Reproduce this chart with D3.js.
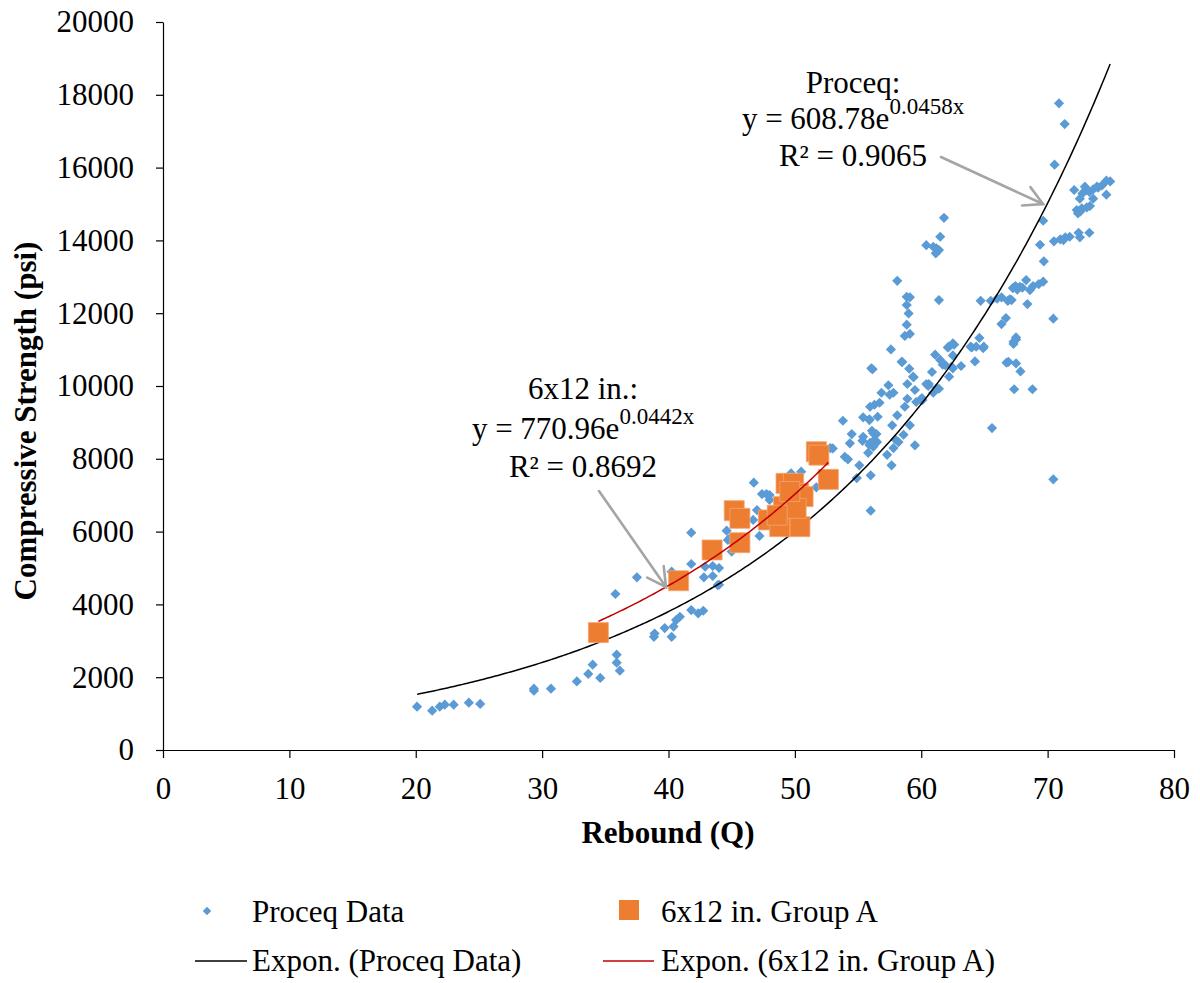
<!DOCTYPE html>
<html><head><meta charset="utf-8">
<script src="https://cdn.jsdelivr.net/npm/d3@7"></script>
<style>
body{margin:0;background:#fff}
text{font-family:"Liberation Serif","Times New Roman",serif;fill:#000}
</style>
</head><body>
<svg id="chart" width="1200" height="983"></svg>
<script>
// ---- data (Rebound Q, Compressive strength psi) ----
const proceqData = [
[20.1,1190],[21.3,1080],[21.9,1190],[22.3,1245],[23.0,1245],[24.2,1300],[25.1,1265],
[29.35,1685],[29.35,1630],[30.7,1685],[32.75,1885],[33.65,2090],[34.0,2345],[34.6,1980],
[35.9,2620],[35.9,2400],[36.15,2180],[35.8,4285],[37.5,4745],
[38.85,3110],[38.9,3200],[39.7,3350],[40.25,3110],[40.4,3390],[40.6,3570],[40.9,3660],
[41.8,3845],[42.35,3755],[42.75,3825],
[41.8,5110],[40.25,4900],[42.8,4745],[43.5,4780],[42.9,5035],[43.5,5055],[44.0,5000],[43.9,4530],[44.0,4540],
[41.8,5970],[44.6,6025],[44.85,5815],[45.0,5450],[44.7,5770],[46.75,7345],[47.2,5880],[46.7,6320],
[47.0,6590],[47.4,7030],[47.75,7030],[48.0,6870],[48.0,7005],[50.5,7645],[49.7,7600],[51.7,7215],[53.0,8285],
[56.15,10460],[58.5,10660],[59.05,10475],[60.4,10055],[59.4,10240],[58.9,10055],[57.4,10020],[59.5,9890],
[56.85,9815],[57.8,9815],[57.5,9760],[58.9,9650],[59.6,9560],[56.7,9540],[56.3,9485],[55.95,9430],[58.7,9430],
[58.1,9195],[56.55,9155],[55.4,9140],[55.9,9085],[53.8,9045],[57.7,8920],[59.1,8920],[54.5,8680],[56.1,8770],
[56.45,8680],[58.6,8660],[55.4,8605],[55.35,8495],[57.95,8530],[54.35,8425],[55.95,8440],[56.5,8460],[58.2,8460],
[56.2,8330],[57.8,8295],[59.5,8370],[55.8,8165],[57.3,8110],[52.8,8295],[53.95,8055],[54.2,7985],[55.1,7820],
[57.65,7820],[56.0,7545],[54.9,7470],[56.0,6575],[56.3,8515],[55.9,8380],[56.2,8700],[55.9,9065],
[61.8,14620],[61.5,14100],[60.4,13870],[60.95,13825],[61.4,13735],[61.15,13645],[61.2,13780],
[58.1,12890],[58.85,12450],[59.1,12435],[58.85,12225],[59.0,11995],[61.4,12360],[58.85,11685],[58.7,11375],[59.1,11430],
[64.7,12340],[65.5,12340],[66.0,12400],[66.85,12340],[67.15,12360],[66.7,11865],[66.35,11700],
[57.6,11005],[62.2,11080],[62.6,11135],[63.9,11080],[64.6,11320],[64.35,11080],[64.95,11080],[62.1,11060],
[61.1,10860],[61.5,10715],[61.7,10585],[62.5,10840],[62.4,10530],[63.15,10550],[64.25,10675],[66.75,10640],
[62.2,10255],[60.85,10385],[59.35,10255],[60.6,10055],[61.4,9925],[60.95,9815],[60.05,9670],[60.1,9615],
[65.6,8845],[61.9,10575],[62.5,10485],[61.2,9935],[60.55,10000],[59.95,9615],[58.45,10665],[56.05,10485],
[62.5,11170],[64.0,11060],[64.9,11040],
[70.55,16080],[72.1,15385],[72.95,15475],[73.3,15330],[73.9,15475],[74.3,15510],[74.65,15640],[74.95,15620],
[74.65,15255],[73.6,15145],[72.55,15145],[73.1,15385],[72.75,15290],[73.6,15400],[74.0,15450],
[72.3,14835],[72.7,14880],[73.1,14905],[73.35,14945],[72.4,14745],[72.6,14800],
[69.65,14540],[70.5,13975],[71.0,14030],[71.4,14085],[71.75,14100],[71.25,14010],[72.45,14210],[72.55,14085],
[73.3,14210],[69.4,13880],[69.7,13425],
[67.45,12745],[67.8,12725],[68.3,12910],[68.6,12635],[68.85,12745],[69.3,12800],[69.65,12865],[67.25,12690],
[67.0,12380],[68.4,12250],[66.35,12435],[70.45,11850],[68.0,12700],[67.6,12650],
[67.5,11280],[67.3,11155],[66.9,10665],[67.5,10620],[67.85,10400],[67.35,9910],[68.8,9910],[70.45,7435],
[70.9,17765],[71.35,17195],[67.3,11215],[67.5,11335]
];
const groupAData = [
[34.45,3225],[40.8,4650],[43.45,5495],[45.65,5695],[45.2,6575],[45.65,6365],[51.7,8195],[51.9,8100],
[52.65,7435],[49.3,7325],[49.9,7325],[50.3,7050],[50.65,6960],[47.9,6320],[49.1,6685],[49.35,6320],
[50.4,6135],[48.8,6135],[50.1,6640],[49.6,7100],[48.6,6450]
];
const proceqFitCoef = [608.78, 0.0458];
const groupAFitCoef = [770.96, 0.0442];
const xTicks = [0,10,20,30,40,50,60,70,80];
const yTicks = [0,2000,4000,6000,8000,10000,12000,14000,16000,18000,20000];
const proceqLabel = ["Proceq:", "y = 608.78e", "0.0458x", "R\u00B2 = 0.9065"];
const groupALabel = ["6x12 in.:", "y = 770.96e", "0.0442x", "R\u00B2 = 0.8692"];
const legendLabels = ["Proceq Data", "6x12 in. Group A", "Expon. (Proceq Data)", "Expon. (6x12 in. Group A)"];

// ---- drawing ----
const svg = d3.select("#chart");
const FS = 31;
const x = d3.scaleLinear().domain([0,80]).range([163,1174]);
const y = d3.scaleLinear().domain([0,20000]).range([750,22]);
const blue = "#5B9BD5", orange = "#ED7D31", red = "#C00000";

const yAxis = svg.append("g").attr("transform","translate(163,0)")
  .call(d3.axisLeft(y).tickValues(yTicks).tickSize(7).tickSizeOuter(0).tickPadding(22).tickFormat(d3.format("d")));
const xAxis = svg.append("g").attr("transform","translate(0,750)")
  .call(d3.axisBottom(x).tickValues(xTicks).tickSize(8).tickSizeOuter(0).tickPadding(19).tickFormat(d3.format("d")));
[yAxis,xAxis].forEach(g=>{
  g.selectAll("path").attr("stroke","#000").attr("stroke-width",1.2);
  g.selectAll("line").attr("stroke","#000").attr("stroke-width",1.2);
  g.selectAll("text").attr("font-size",FS).attr("font-family","'Liberation Serif','Times New Roman',serif").attr("fill","#000");
});

// trendlines
function fitLine(data, coef){
  const xs = data.map(d=>d[0]);
  const lo = d3.min(xs), hi = d3.max(xs);
  const pts = d3.range(lo, hi, 0.2).concat([hi]).map(v=>[v, coef[0]*Math.exp(coef[1]*v)]);
  return d3.line().x(d=>x(d[0])).y(d=>y(d[1]))(pts);
}

// points
const diamond = d3.symbol().type(d3.symbolSquare).size(52);
svg.append("g").selectAll("path").data(proceqData).join("path")
  .attr("d", diamond)
  .attr("transform", d=>`translate(${x(d[0])},${y(d[1])}) rotate(45)`)
  .attr("fill", blue);

svg.append("path").attr("d", fitLine(proceqData, proceqFitCoef))
  .attr("fill","none").attr("stroke","#000").attr("stroke-width",1.5);

const square = d3.symbol().type(d3.symbolSquare).size(400);
svg.append("g").selectAll("path").data(groupAData).join("path")
  .attr("d", square)
  .attr("transform", d=>`translate(${x(d[0])},${y(d[1])})`)
  .attr("fill", orange).attr("stroke","#F4A672").attr("stroke-width",0.8);

svg.append("path").attr("d", fitLine(groupAData, groupAFitCoef))
  .attr("fill","none").attr("stroke",red).attr("stroke-width",1.5);

// axis titles
svg.append("text").attr("x",668).attr("y",843).attr("text-anchor","middle")
  .attr("font-size",FS).attr("font-weight","bold").text("Rebound (Q)");
svg.append("text").attr("transform","translate(36,421) rotate(-90)").attr("text-anchor","middle")
  .attr("font-size",FS).attr("font-weight","bold").text("Compressive Strength (psi)");

// annotations
function annot(lbl, cx, b){
  svg.append("text").attr("x",cx).attr("y",b[0]).attr("text-anchor","middle").attr("font-size",FS).text(lbl[0]);
  const t = svg.append("text").attr("x",cx).attr("y",b[1]).attr("text-anchor","middle").attr("font-size",FS);
  t.append("tspan").text(lbl[1]);
  t.append("tspan").attr("dy",-15).attr("font-size",23).text(lbl[2]);
  svg.append("text").attr("x",cx).attr("y",b[2]).attr("text-anchor","middle").attr("font-size",FS).text(lbl[3]);
}
annot(proceqLabel, 853, [93,129,166]);
annot(groupALabel, 583, [399,439,477]);

function arrow(x1,y1,x2,y2){
  const g = svg.append("g").attr("stroke","#A5A5A5").attr("stroke-width",2.6).attr("fill","none").attr("stroke-linecap","round");
  g.append("line").attr("x1",x1).attr("y1",y1).attr("x2",x2).attr("y2",y2);
  const a = Math.atan2(y2-y1,x2-x1), L = 21, w = 0.5;
  const p1 = [x2 - L*Math.cos(a-w), y2 - L*Math.sin(a-w)];
  const p2 = [x2 - L*Math.cos(a+w), y2 - L*Math.sin(a+w)];
  g.append("path").attr("d",`M${p1[0]},${p1[1]}L${x2},${y2}L${p2[0]},${p2[1]}`);
}
arrow(941,157,1043,204);
arrow(599,491,666,587);

// legend
const lg = svg.append("g");
lg.append("path").attr("d", d3.symbol().type(d3.symbolSquare).size(36)).attr("transform","translate(207,911) rotate(45)").attr("fill",blue);
lg.append("text").attr("x",252).attr("y",922).attr("font-size",FS).text(legendLabels[0]);
lg.append("path").attr("d", d3.symbol().type(d3.symbolSquare).size(400)).attr("transform","translate(629,910)").attr("fill",orange);
lg.append("text").attr("x",661).attr("y",922).attr("font-size",FS).text(legendLabels[1]);
lg.append("line").attr("x1",195).attr("x2",247).attr("y1",961).attr("y2",961).attr("stroke","#000").attr("stroke-width",1.5);
lg.append("text").attr("x",252).attr("y",971).attr("font-size",FS).text(legendLabels[2]);
lg.append("line").attr("x1",603).attr("x2",654).attr("y1",961).attr("y2",961).attr("stroke",red).attr("stroke-width",1.5);
lg.append("text").attr("x",661).attr("y",971).attr("font-size",FS).text(legendLabels[3]);
</script>
</body></html>
